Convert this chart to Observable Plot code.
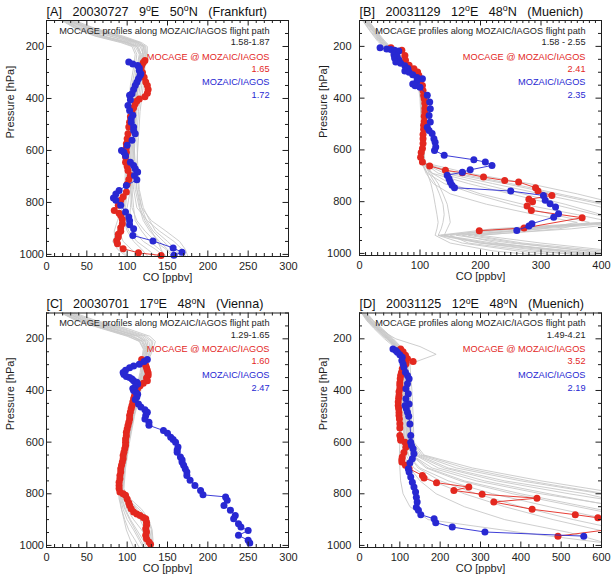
<!DOCTYPE html>
<html>
<head>
<meta charset="utf-8">
<script src="https://cdn.jsdelivr.net/npm/d3@7"></script>
<script src="https://cdn.jsdelivr.net/npm/@observablehq/plot@0.6"></script>
<style>
  body { margin: 0; background: #fff; }
  #grid { display: grid; grid-template-columns: 308px 308px; grid-template-rows: 290px 290px; width: 616px; height: 580px; }
  #grid svg { display: block; }
</style>
</head>
<body>
<div id="grid"></div>
<script>
// CO vertical profiles: MOCAGE model profiles along the MOZAIC/IAGOS flight path (gray),
// MOCAGE sampled at the aircraft positions (red) and the MOZAIC/IAGOS measurements (blue).
// Points are [CO in ppbv, pressure in hPa].

// ---- [A] Frankfurt, 2003-07-27 ----
const titleA = "[A]   20030727   9^oE   50^oN   (Frankfurt)";
const rangeA = ["1.58-1.87", "1.65", "1.72"];
const redA = [[122,254],[120,262],[118,273],[117,285],[119,300],[121,318],[123,337],[125,350],[126,365],[125,380],[122,393],[115,402],[112,410],[110,420],[108,436],[106,453],[104,470],[103,491],[102,510],[101,536],[100,555],[99,574],[99,590],[99,607],[98,625],[98,645],[100,662],[101,677],[104,696],[102,712],[100,730],[99,760],[95,778],[92,792],[89,811],[84,831],[90,842],[92,850],[94,866],[94,882],[92,897],[92,911],[89,922],[89,933],[87,947],[88,959],[95,978],[114,994],[142,1004]];
const blueA = [[102,260],[107,267],[113,273],[115,283],[115,292],[117,305],[116,312],[114,324],[112,338],[110,350],[108,365],[106,382],[103,388],[104,405],[101,427],[103,446],[107,465],[105,478],[105,491],[108,510],[108,523],[110,536],[106,561],[100,580],[93,600],[96,607],[98,620],[104,645],[108,658],[110,670],[113,683],[109,696],[112,713],[99,735],[90,754],[86,768],[83,783],[86,792],[92,811],[98,837],[102,856],[103,870],[103,886],[108,901],[107,927],[132,948],[157,975],[168,992],[158,1003]];
const levelsA = [100,130,160,185,200,230,280,350,450,550,650,750,820,870,910,950,980,1005];
const grayA = [
  [22,40,70,100,112,118,115,110,106,104,105,108,112,125,140,158,168,172],
  [25,45,78,105,116,120,118,114,110,108,110,112,118,130,148,165,172,175],
  [28,50,85,110,120,122,121,118,114,112,113,115,120,128,135,150,160,165],
  [20,38,65,98,110,115,112,108,104,102,103,104,106,112,122,135,148,155],
  [30,55,90,115,123,124,120,116,112,110,108,110,115,120,128,140,150,158],
  [24,42,72,102,114,117,114,112,108,106,104,106,108,110,118,128,140,148],
  [35,60,95,118,125,125,122,120,116,114,112,114,118,124,132,145,155,162],
  [21,36,62,95,108,112,110,106,102,100,100,100,98,96,100,108,118,125],
  [26,48,80,108,118,120,116,112,107,104,102,100,96,92,90,95,105,115],
  [23,41,68,100,112,116,113,110,105,102,100,98,94,88,84,85,92,100],
  [32,58,92,116,122,123,119,114,110,107,106,104,100,95,88,82,88,98],
  [27,52,86,112,121,121,117,113,109,108,109,112,116,122,130,138,142,146],
  [19,35,60,92,106,110,108,104,101,99,98,97,96,97,102,112,125,135],
  [29,54,88,113,120,119,116,113,111,109,107,106,104,103,108,120,135,145]
];

// ---- [B] Muenich, 2003-11-29 ----
const titleB = "[B]   20031129   12^oE   48^oN   (Muenich)";
const rangeB = ["1.58 - 2.55", "2.41", "2.35"];
const redB = [[52,205],[70,215],[75,235],[76,254],[82,273],[90,286],[96,299],[98,312],[101,331],[104,351],[105,370],[106,390],[107,402],[108,420],[108,440],[108,454],[107,470],[107,490],[106,505],[106,520],[105,540],[105,557],[105,575],[104,595],[102,610],[101,628],[104,647],[116,662],[142,679],[170,688],[205,705],[240,718],[263,724],[291,746],[295,759],[318,776],[280,791],[286,800],[277,817],[284,834],[368,862],[272,902],[198,912]];
const blueB = [[34,205],[45,210],[52,212],[58,215],[65,218],[60,225],[57,232],[62,238],[58,245],[65,252],[60,260],[68,265],[75,275],[80,285],[75,295],[82,300],[88,310],[95,320],[104,325],[95,335],[88,345],[92,352],[100,358],[112,389],[116,415],[117,441],[115,467],[117,492],[112,512],[115,525],[120,537],[123,557],[125,570],[126,589],[124,602],[140,621],[189,638],[208,647],[219,660],[183,677],[170,686],[145,698],[148,711],[150,724],[153,737],[157,746],[250,759],[304,776],[307,795],[315,808],[324,821],[329,847],[321,860],[285,885],[280,894],[260,911]];
const levelsB = [100,140,180,210,250,300,350,400,500,600,650,690,730,770,810,850,880,905,930,960,990,1008];
const grayB = [
  [8,22,35,48,68,90,100,103,105,104,104,140,220,300,380,450,420,250,140,220,350,420],
  [12,25,38,52,72,92,102,105,106,105,106,160,250,330,410,470,400,220,130,200,320,400],
  [6,18,32,45,65,88,98,101,103,102,103,120,180,250,320,390,440,300,160,250,380,450],
  [15,28,42,55,75,94,103,106,108,107,108,180,280,360,430,480,430,260,150,180,280,380],
  [10,24,36,50,70,91,101,104,106,106,106,130,200,270,340,400,450,350,190,270,400,460],
  [5,17,30,44,62,86,97,100,102,102,102,112,140,190,250,320,380,330,200,300,420,470],
  [14,27,40,54,74,93,102,106,107,106,107,115,125,132,138,140,138,135,130,170,260,330],
  [9,23,37,50,69,90,100,103,105,104,104,112,118,122,125,128,130,128,125,150,220,300],
  [11,26,39,52,71,92,101,105,107,106,108,120,150,200,270,360,420,280,170,230,330,390],
  [7,20,33,47,66,89,99,102,104,103,104,118,130,138,145,148,150,145,140,200,300,370],
  [13,26,40,53,73,93,102,105,107,107,105,150,240,320,400,460,410,240,135,210,340,410],
  [10,22,34,48,67,89,99,102,104,104,103,110,122,150,210,290,360,300,180,260,370,430]
];

// ---- [C] Vienna, 2003-07-01 ----
const titleC = "[C]   20030701   17^oE   48^oN   (Vienna)";
const rangeC = ["1.29-1.65", "1.60", "2.47"];
const redC = [[118,280],[119,288],[121,295],[123,303],[124,312],[125,322],[126,332],[126,342],[124,352],[125,362],[120,372],[116,382],[113,392],[111,402],[110,412],[109,422],[108,432],[107,445],[106,458],[105,470],[104,483],[103,497],[103,510],[102,523],[101,536],[100,549],[99,562],[99,575],[98,588],[98,600],[98,613],[97,626],[96,639],[95,652],[95,664],[94,677],[93,690],[92,703],[92,716],[91,729],[91,742],[90,755],[90,768],[90,780],[91,793],[95,800],[98,806],[100,820],[102,835],[103,845],[105,858],[108,871],[112,878],[116,884],[120,892],[123,897],[124,910],[124,922],[123,935],[124,948],[123,961],[124,974],[127,987],[129,995]];
const blueC = [[125,280],[121,288],[115,298],[108,305],[103,312],[98,322],[95,330],[96,338],[99,346],[103,350],[106,356],[108,362],[112,368],[113,375],[110,385],[107,392],[108,400],[111,408],[113,415],[112,425],[110,435],[114,452],[117,464],[122,475],[125,484],[123,497],[122,510],[127,523],[127,535],[145,555],[150,566],[154,581],[157,590],[160,600],[163,619],[162,630],[162,639],[166,658],[168,668],[168,677],[170,690],[172,703],[174,716],[174,729],[178,748],[184,768],[191,787],[194,804],[222,812],[224,825],[220,845],[228,864],[234,884],[232,897],[238,916],[241,929],[250,942],[238,961],[250,980],[252,991]];
const levelsC = [100,130,160,190,210,240,280,330,400,500,600,700,780,820,860,900,940,980,1008];
const grayC = [
  [20,40,72,105,118,122,120,118,112,104,98,93,90,95,105,118,125,128,129],
  [24,46,80,112,122,125,123,120,114,106,100,95,92,98,110,122,128,130,130],
  [28,52,88,118,127,128,125,122,115,107,101,96,93,96,100,108,118,125,127],
  [22,43,76,108,120,124,121,118,113,105,99,94,91,92,95,100,108,115,120],
  [32,58,95,124,132,130,126,123,116,108,102,97,94,100,115,126,130,131,130],
  [18,37,68,100,115,120,118,116,111,103,97,92,89,90,93,97,102,110,115],
  [26,49,84,115,125,126,124,121,115,106,100,95,92,94,98,104,112,120,124],
  [30,55,92,121,130,129,125,122,116,108,102,97,95,104,118,127,131,132,131],
  [21,41,74,106,119,123,121,119,113,105,99,94,90,91,93,96,99,104,108],
  [35,62,100,128,135,132,127,124,117,109,103,98,96,102,112,120,126,129,128],
  [25,47,82,113,123,125,122,119,114,106,100,95,91,93,97,103,110,117,122],
  [19,38,70,102,116,121,119,117,112,104,98,93,90,97,108,116,122,126,127]
];

// ---- [D] Muenich, 2003-11-25 ----
const titleD = "[D]   20031125   12^oE   48^oN   (Muenich)";
const rangeD = ["1.49-4.21", "3.52", "2.19"];
const redD = [[102,239],[108,250],[114,264],[119,277],[133,288],[115,297],[110,305],[106,316],[104,330],[102,342],[101,355],[100,370],[100,380],[100,393],[98,405],[98,419],[97,430],[96,445],[96,458],[97,470],[98,485],[98,497],[99,510],[100,529],[100,545],[100,574],[102,585],[102,593],[113,600],[118,610],[115,620],[110,640],[106,658],[105,667],[105,677],[114,690],[123,703],[156,729],[160,739],[191,757],[271,774],[234,787],[304,802],[440,817],[333,832],[428,860],[535,881],[591,893],[660,930],[492,964]];
const blueD = [[83,239],[90,245],[94,252],[100,262],[106,271],[105,284],[108,297],[110,310],[114,329],[119,342],[123,355],[119,374],[115,393],[121,413],[115,432],[123,452],[113,458],[116,470],[119,484],[122,500],[125,530],[127,574],[127,600],[129,613],[133,626],[135,645],[131,664],[125,680],[121,703],[123,716],[127,735],[131,755],[135,774],[139,793],[141,813],[143,832],[141,852],[146,864],[152,881],[185,897],[189,912],[230,929],[311,948],[556,964]];
const levelsD = [100,130,160,200,230,260,300,400,500,600,650,700,750,800,850,900,950,1008];
const grayD = [
  [8,22,42,70,90,102,108,112,115,118,130,180,290,450,650,800,900,950],
  [12,28,48,76,95,106,112,116,120,122,140,210,340,520,720,850,950,1000],
  [6,20,38,66,88,100,105,108,110,112,120,150,220,330,470,620,750,850],
  [15,32,52,80,98,110,118,122,125,128,150,240,400,600,750,850,950,1000],
  [10,25,45,73,93,104,110,114,118,120,128,165,250,380,540,700,820,900],
  [5,18,36,62,85,98,103,106,108,110,115,135,180,260,360,480,620,720],
  [18,35,56,84,102,115,125,130,133,135,160,280,450,650,800,900,1000,1050],
  [9,24,44,72,92,104,108,110,112,114,122,145,200,290,400,530,680,800],
  [13,30,50,78,97,108,115,120,122,125,138,195,310,470,640,780,880,950],
  [7,21,40,68,89,101,104,103,102,104,110,125,150,190,260,360,520,650],
  [11,27,47,75,94,105,112,118,124,130,145,220,360,560,700,820,900,950],
  [16,33,54,82,100,112,120,125,128,132,155,260,420,610,760,870,950,1000],
  [8,23,43,70,90,102,105,104,102,100,99,100,102,108,125,170,400,700],
  [10,26,46,90,150,190,120,110,113,118,130,170,260,400,560,720,850,920]
];

const RED = "#e3281f", BLUE = "#2828d2", GRAY = "#c8c8c8", INK = "#1e1e1e";
const LEGEND_TOP = "MOCAGE profiles along MOZAIC/IAGOS flight path";
const LEGEND_MODEL = "MOCAGE @ MOZAIC/IAGOS";
const LEGEND_OBS = "MOZAIC/IAGOS";

function panel(c) {
  const W = 308, H = 290;
  const fh = H - c.mt - c.mb, fw = W - c.ml - c.mr;
  const rows = c.gray.flatMap((prof, k) => prof.map((v, i) => ({id: k, co: v, p: c.levels[i]})));
  const xMajor = d3.range(0, c.xMax + 1, c.xStep);
  const xMinor = d3.range(0, c.xMax + 1, c.xMinorStep).filter(v => v % c.xStep !== 0);
  const yMajor = [200, 400, 600, 800, 1000];
  const yMinor = d3.range(100, 1001, 50).filter(p => !yMajor.includes(p));
  const inX = d => d[0] >= 0 && d[0] <= c.xMax;
  const majorLen = 5.5, minorLen = 3;
  const tickStyle = {stroke: INK, strokeWidth: 1};
  const legend = (txt, color, dy) => Plot.text([txt], {
    text: d => d, frameAnchor: "top-right", textAnchor: "end", lineAnchor: "middle",
    dx: c.legendDx, dy, fill: color, fontSize: 9.2
  });

  const svg = Plot.plot({
    width: W, height: H,
    marginTop: c.mt, marginBottom: c.mb, marginLeft: c.ml, marginRight: c.mr,
    style: {fontFamily: "'Liberation Sans', Arial, Helvetica, sans-serif", fontSize: "11px", color: INK, background: "white"},
    x: {domain: [0, c.xMax]},
    y: {domain: [100, 1008], reverse: true},
    marks: [
      Plot.line(rows, {x: "co", y: "p", z: "id", stroke: GRAY, strokeWidth: 0.9, clip: true}),
      Plot.line(c.red, {x: d => d[0], y: d => d[1], stroke: RED, strokeWidth: 0.9, clip: true}),
      Plot.dot(c.red.filter(inX), {x: d => d[0], y: d => d[1], r: 3.5, fill: RED}),
      Plot.line(c.blue, {x: d => d[0], y: d => d[1], stroke: BLUE, strokeWidth: 0.9, clip: true}),
      Plot.dot(c.blue.filter(inX), {x: d => d[0], y: d => d[1], r: 3.5, fill: BLUE}),
      Plot.frame({stroke: INK, strokeWidth: 1}),
      // inward ticks on all four sides
      Plot.tickX(xMajor, {x: d => d, insetTop: fh - majorLen, ...tickStyle}),
      Plot.tickX(xMajor, {x: d => d, insetBottom: fh - majorLen, ...tickStyle}),
      Plot.tickX(xMinor, {x: d => d, insetTop: fh - minorLen, ...tickStyle}),
      Plot.tickX(xMinor, {x: d => d, insetBottom: fh - minorLen, ...tickStyle}),
      Plot.tickY(yMajor, {y: d => d, insetRight: fw - majorLen, ...tickStyle}),
      Plot.tickY(yMajor, {y: d => d, insetLeft: fw - majorLen, ...tickStyle}),
      Plot.tickY(yMinor, {y: d => d, insetRight: fw - minorLen, ...tickStyle}),
      Plot.tickY(yMinor, {y: d => d, insetLeft: fw - minorLen, ...tickStyle}),
      Plot.axisX({ticks: xMajor, tickSize: 0, tickPadding: 6, tickFormat: d => String(d), label: null}),
      Plot.axisY({ticks: yMajor, tickSize: 0, tickPadding: c.yPad, tickFormat: d => String(d), label: null}),
      Plot.text(["CO [ppbv]"], {text: d => d, frameAnchor: "bottom", dy: 21, lineAnchor: "middle", fontSize: 11, fill: INK}),
      Plot.text(["Pressure [hPa]"], {text: d => d, frameAnchor: "left", dx: -36, rotate: -90, lineAnchor: "middle", fontSize: 11, fill: INK}),
      Plot.text([c.title], {text: d => d.replace(/ /g, "\u00a0"), frameAnchor: "top-left", textAnchor: "start", lineAnchor: "middle", dy: -9, fontSize: 12.6, fill: "#111"}),
      legend(LEGEND_TOP, INK, 10.5),
      legend(c.range[0], INK, 22),
      legend(LEGEND_MODEL, RED, 36.5),
      legend(c.range[1], RED, 48.5),
      legend(LEGEND_OBS, BLUE, 62),
      legend(c.range[2], BLUE, 75)
    ]
  });

  // turn "^o" into a raised small "o" (degree marks in the title)
  svg.querySelectorAll("text").forEach(t => {
    if (!t.textContent.includes("^o")) return;
    const parts = t.textContent.split("^o");
    t.textContent = "";
    const ns = "http://www.w3.org/2000/svg";
    parts.forEach((part, i) => {
      const span = document.createElementNS(ns, "tspan");
      span.textContent = part;
      if (i > 0) span.setAttribute("dy", "4.5");
      t.appendChild(span);
      if (i < parts.length - 1) {
        const sup = document.createElementNS(ns, "tspan");
        sup.textContent = "o";
        sup.setAttribute("dy", "-4.5");
        sup.setAttribute("font-size", "8.8");
        t.appendChild(sup);
      }
    });
  });
  return svg;
}

const grid = document.getElementById("grid");
[
  {title: titleA, range: rangeA, red: redA, blue: blueA, gray: grayA, levels: levelsA, xMax: 300, xStep: 50, xMinorStep: 10, mt: 20, mb: 34, ml: 46, mr: 20, yPad: 2.5, legendDx: -19},
  {title: titleB, range: rangeB, red: redB, blue: blueB, gray: grayB, levels: levelsB, xMax: 400, xStep: 100, xMinorStep: 10, mt: 20, mb: 35, ml: 51, mr: 15, yPad: 8, legendDx: -16},
  {title: titleC, range: rangeC, red: redC, blue: blueC, gray: grayC, levels: levelsC, xMax: 300, xStep: 50, xMinorStep: 10, mt: 22.5, mb: 33, ml: 46, mr: 20, yPad: 2.5, legendDx: -19},
  {title: titleD, range: rangeD, red: redD, blue: blueD, gray: grayD, levels: levelsD, xMax: 600, xStep: 100, xMinorStep: 20, mt: 22.5, mb: 33, ml: 51, mr: 15, yPad: 8, legendDx: -16}
].forEach(c => grid.appendChild(panel(c)));
</script>
</body>
</html>
